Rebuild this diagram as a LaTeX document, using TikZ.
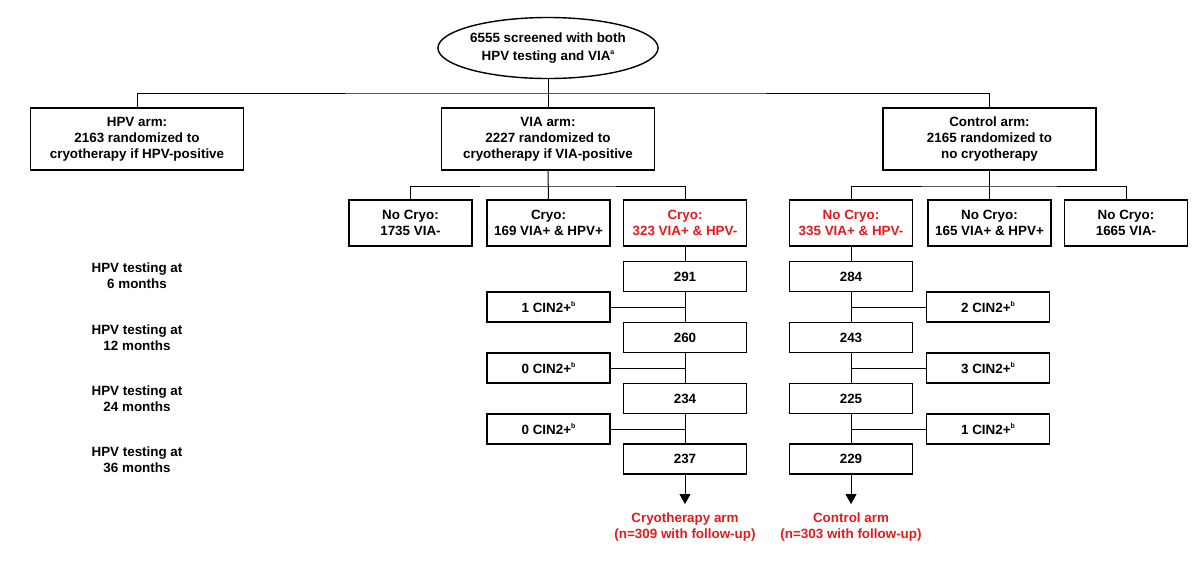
\documentclass[tikz,border=0pt]{standalone}
\usepackage{fontspec}
\setmainfont{Liberation Sans}
\usetikzlibrary{arrows.meta,shapes.geometric}
\definecolor{rd}{RGB}{228,26,28}
\newcommand{\sps}[1]{\raisebox{5.5pt}{\fontsize{7}{7}\selectfont #1}}
\begin{document}
\begin{tikzpicture}[x=1pt,y=-1pt,
  txt/.style={font=\fontsize{13.4}{16}\selectfont\bfseries,align=center,inner sep=0pt},
  box/.style={txt,draw,line width=1.4pt},
  bigbox/.style={box,minimum width=213pt,minimum height=62pt},
  midbox/.style={box,minimum width=123pt,minimum height=46pt},
  fubox/.style={box,minimum width=123pt,minimum height=30pt},
  conn/.style={line width=1pt},
  arr/.style={conn,-{Triangle[length=10pt,width=11pt]}},
  redtxt/.style={txt,text=rd}]
\useasboundingbox (0,0) rectangle (1200,563);

\node[txt,font=\fontsize{13.4}{17.5}\selectfont\bfseries,draw,ellipse,line width=1.4pt,minimum width=214pt,minimum height=61pt] (ell) at (548,48) {6555 screened with both\\HPV testing and VIA\sps{a}};

\node[bigbox] (hpv) at (137,139) {HPV arm:\\2163 randomized to\\cryotherapy if HPV-positive};
\node[bigbox] (via) at (548,139) {VIA arm:\\2227 randomized to\\cryotherapy if VIA-positive};
\node[bigbox] (ctl) at (989.5,139) {Control arm:\\2165 randomized to\\no cryotherapy};

\node[midbox] (v1) at (410.5,223) {No Cryo:\\1735 VIA-};
\node[midbox] (v2) at (548.5,223) {Cryo:\\169 VIA+ \& HPV+};
\node[midbox,text=rd] (v3) at (685,223) {Cryo:\\323 VIA+ \& HPV-};
\node[midbox,text=rd] (c1) at (851,223) {No Cryo:\\335 VIA+ \& HPV-};
\node[midbox] (c2) at (989.5,223) {No Cryo:\\165 VIA+ \& HPV+};
\node[midbox] (c3) at (1126,223) {No Cryo:\\1665 VIA-};

\node[txt] (t1) at (137,276) {HPV testing at\\6 months};
\node[txt] (t2) at (137,337.5) {HPV testing at\\12 months};
\node[txt] (t3) at (137,398.5) {HPV testing at\\24 months};
\node[txt] (t4) at (137,459.5) {HPV testing at\\36 months};

\node[fubox] (f1) at (685,276.5) {291};
\node[fubox] (f2) at (685,337.5) {260};
\node[fubox] (f3) at (685,398.5) {234};
\node[fubox] (f4) at (685,459) {237};
\node[fubox] (g1) at (851,276.5) {284};
\node[fubox] (g2) at (851,337.5) {243};
\node[fubox] (g3) at (851,398.5) {225};
\node[fubox] (g4) at (851,459) {229};

\node[fubox] (l1) at (548.5,307) {1 CIN2+\sps{b}};
\node[fubox] (l2) at (548.5,368) {0 CIN2+\sps{b}};
\node[fubox] (l3) at (548.5,429) {0 CIN2+\sps{b}};
\node[fubox] (r1) at (988,307) {2 CIN2+\sps{b}};
\node[fubox] (r2) at (988,368) {3 CIN2+\sps{b}};
\node[fubox] (r3) at (988,429) {1 CIN2+\sps{b}};

\node[redtxt] (endc) at (685,527) {Cryotherapy arm\\(n=309 with follow-up)};
\node[redtxt] (endk) at (851,527) {Control arm\\(n=303 with follow-up)};
\coordinate (ac) at (685,504);
\coordinate (ak) at (851,504);

\coordinate (j0) at (548,93);
\coordinate (j1) at (548,186);
\coordinate (j2) at (989.5,186);

\draw[conn] (ell.south) -- (via.north);
\draw[conn] (hpv.north) |- (j0) -| (ctl.north);
\draw[conn] (via.south) -- (v2.north);
\draw[conn] (v1.north) |- (j1) -| (v3.north);
\draw[conn] (ctl.south) -- (c2.north);
\draw[conn] (c1.north) |- (j2) -| (c3.north);

\draw[conn] (v3.south) -- (f1.north);
\draw[conn] (f1.south) -- (f2.north);
\draw[conn] (f2.south) -- (f3.north);
\draw[conn] (f3.south) -- (f4.north);
\draw[conn] (c1.south) -- (g1.north);
\draw[conn] (g1.south) -- (g2.north);
\draw[conn] (g2.south) -- (g3.north);
\draw[conn] (g3.south) -- (g4.north);

\draw[conn] (l1.east) -- (l1.east -| f1.south);
\draw[conn] (l2.east) -- (l2.east -| f1.south);
\draw[conn] (l3.east) -- (l3.east -| f1.south);
\draw[conn] (r1.west) -- (r1.west -| g1.south);
\draw[conn] (r2.west) -- (r2.west -| g1.south);
\draw[conn] (r3.west) -- (r3.west -| g1.south);

\draw[arr] (f4.south) -- (ac);
\draw[arr] (g4.south) -- (ak);
\end{tikzpicture}
\end{document}
